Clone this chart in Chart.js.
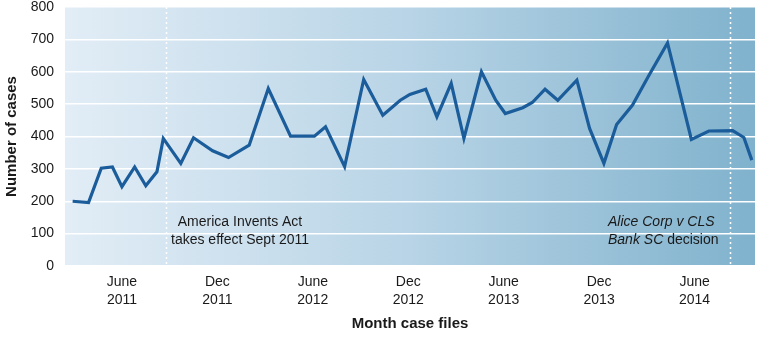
<!DOCTYPE html>
<html lang="en">
<head>
  <meta charset="UTF-8">
  <title>Number of cases by month</title>
  <script src="https://cdn.jsdelivr.net/npm/chart.js"></script>
  <style>
    html, body { margin: 0; padding: 0; background: #fff; }
    #wrap { width: 758px; height: 345px; }
  </style>
</head>
<body>
  <div id="wrap"><canvas id="grafico" width="758" height="345"></canvas></div>

  <script>
    // months counted from Jan 2011 = 0 (fractional)
    const months = [1.9, 2.9, 3.7, 4.4, 5.0, 5.8, 6.5, 7.2, 7.6, 8.7, 9.5, 10.7, 11.7, 13.0, 14.2, 15.6,
      17.1, 17.8, 19.0, 20.2, 21.4, 22.5, 23.1, 24.1, 24.8, 25.7, 26.5, 27.6, 28.5, 29.1, 30.2, 30.8,
      31.6, 32.4, 33.6, 34.4, 35.3, 36.1, 37.1, 38.1, 39.3, 40.8, 41.9, 43.4, 44.1, 44.6];
    const cases = [200, 196, 302, 306, 245, 306, 248, 291, 394, 317, 396, 356, 335, 373, 548, 401,
      401, 430, 307, 576, 466, 512, 530, 546, 461, 564, 394, 600, 512, 471, 489, 505,
      546, 512, 574, 425, 317, 437, 497, 586, 689, 391, 417, 418, 397, 327];

    // x axis ticks
    const tickMonths = [5, 11, 17, 23, 29, 35, 41];
    const tickLabels = [["June", "2011"], ["Dec", "2011"], ["June", "2012"], ["Dec", "2012"],
      ["June", "2013"], ["Dec", "2013"], ["June", "2014"]];

    // events (dotted lines)
    const eventMonths = [7.8, 43.2];

    const fonte = "'Liberation Sans', Arial, Helvetica, sans-serif";

    // background gradient, grid and event markers
    const fundo = {
      id: "fundo",
      beforeDraw(chart) {
        const { ctx, chartArea: a } = chart;
        const g = ctx.createLinearGradient(a.left, 0, a.right, 0);
        g.addColorStop(0, "#e2edf6");
        g.addColorStop(0.5, "#b8d4e6");
        g.addColorStop(1, "#80b2cd");
        ctx.save();
        ctx.fillStyle = g;
        ctx.fillRect(a.left, a.top, a.right - a.left, a.bottom - a.top);
        ctx.restore();
      },
      beforeDatasetsDraw(chart) {
        const { ctx, chartArea: a, scales } = chart;
        ctx.save();
        ctx.strokeStyle = "#ffffff";
        ctx.lineWidth = 1.5;
        ctx.setLineDash([2, 3]);
        eventMonths.forEach(m => {
          const x = Math.round(scales.x.getPixelForValue(m)) + 0.5;
          ctx.beginPath();
          ctx.moveTo(x, a.top);
          ctx.lineTo(x, a.bottom);
          ctx.stroke();
        });
        ctx.setLineDash([]);

        // annotation texts
        ctx.fillStyle = "#1a1a1a";
        ctx.font = "14px " + fonte;
        ctx.textBaseline = "middle";
        ctx.textAlign = "center";
        ctx.fillText("America Invents Act", 240, 222);
        ctx.fillText("takes effect Sept 2011", 240, 240);

        ctx.textAlign = "left";
        ctx.font = "italic 14px " + fonte;
        ctx.fillText("Alice Corp v CLS", 608, 222);
        const parte = "Bank SC";
        ctx.fillText(parte, 608, 240);
        const w = ctx.measureText(parte + " ").width;
        ctx.font = "14px " + fonte;
        ctx.fillText("decision", 608 + w, 240);
        ctx.restore();
      }
    };

    const ctx = document.getElementById("grafico").getContext("2d");
    new Chart(ctx, {
      type: "line",
      data: {
        datasets: [{
          data: months.map((m, i) => ({ x: m, y: cases[i] })),
          borderColor: "#1b5c9b",
          borderWidth: 3.2,
          pointRadius: 0,
          tension: 0,
          borderJoinStyle: "miter"
        }]
      },
      options: {
        responsive: false,
        animation: false,
        layout: { padding: { top: 7, right: 3, left: 3, bottom: 0 } },
        plugins: {
          legend: { display: false },
          tooltip: { enabled: false }
        },
        scales: {
          x: {
            type: "linear",
            min: 1.42,
            max: 44.8,
            afterBuildTicks(scale) {
              scale.ticks = tickMonths.map(v => ({ value: v }));
            },
            afterFit(scale) {
              scale.height = 79;
              scale.paddingLeft = 0;
              scale.paddingRight = 0;
            },
            grid: { display: false, drawTicks: false },
            border: { display: false },
            ticks: {
              autoSkip: false,
              maxRotation: 0,
              padding: 7,
              color: "#1a1a1a",
              font: { family: fonte, size: 14, lineHeight: 1.3 },
              callback: (v) => tickLabels[tickMonths.indexOf(v)]
            },
            title: {
              display: true,
              text: "Month case files",
              color: "#1a1a1a",
              font: { family: fonte, size: 15, weight: "bold" },
              padding: { top: 6, bottom: 12 }
            }
          },
          y: {
            min: 0,
            max: 800,
            afterFit(scale) {
              scale.width = 62;
              scale.paddingTop = 0;
              scale.paddingBottom = 0;
            },
            grid: { color: "#ffffff", lineWidth: 1.5, drawTicks: false },
            border: { display: false },
            ticks: {
              stepSize: 100,
              padding: 11,
              color: "#1a1a1a",
              font: { family: fonte, size: 14 }
            },
            title: {
              display: true,
              text: "Number of cases",
              color: "#1a1a1a",
              font: { family: fonte, size: 15, weight: "bold" },
              padding: { bottom: 0, top: 0 }
            }
          }
        }
      },
      plugins: [fundo]
    });
  </script>
</body>
</html>
